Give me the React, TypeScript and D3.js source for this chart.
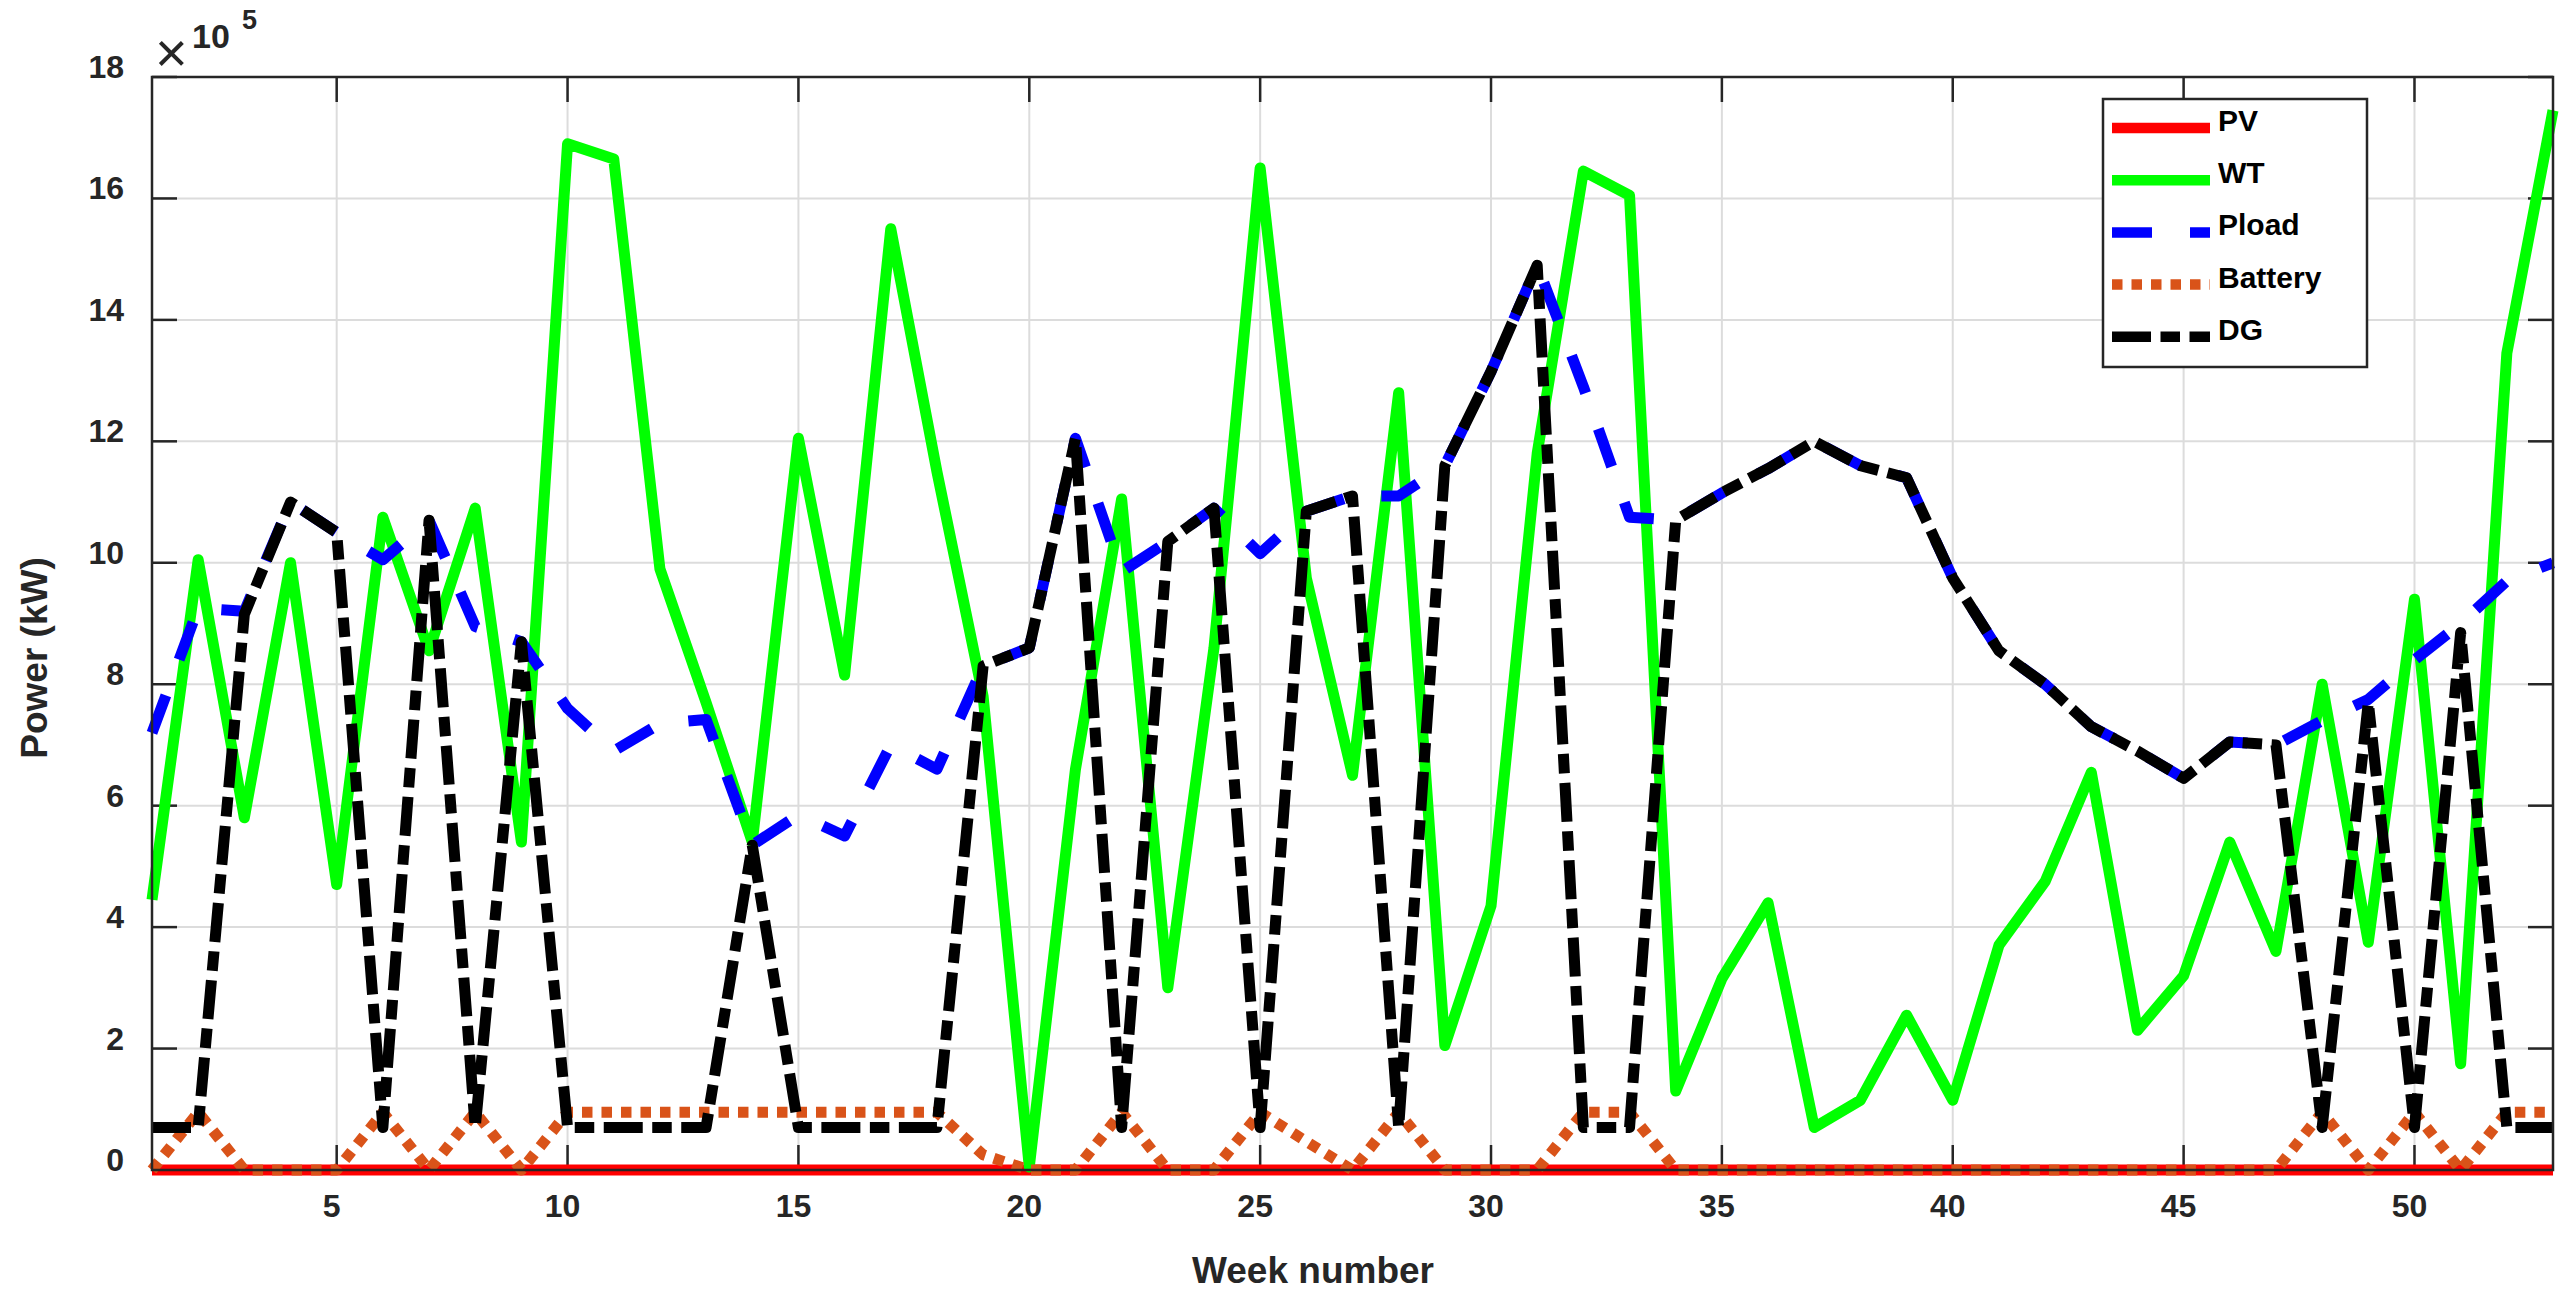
import React from "react";
import * as d3 from "d3";

// week index on the x axis
const weeks = [
  1, 2, 3, 4, 5, 6, 7, 8, 9, 10, 11, 12, 13, 14, 15, 16, 17, 18, 19, 20, 21, 22, 23, 24, 25, 26,
  27, 28, 29, 30, 31, 32, 33, 34, 35, 36, 37, 38, 39, 40, 41, 42, 43, 44, 45, 46, 47, 48, 49, 50,
  51, 52, 53,
];

// power values in units of 10^5 kW
const pvPower = [
  0, 0, 0, 0, 0, 0, 0, 0, 0, 0, 0, 0, 0, 0, 0, 0, 0, 0, 0, 0, 0, 0, 0, 0, 0, 0,
  0, 0, 0, 0, 0, 0, 0, 0, 0, 0, 0, 0, 0, 0, 0, 0, 0, 0, 0, 0, 0, 0, 0, 0, 0, 0, 0,
];
const wtPower = [
  4.45, 10.05, 5.8, 10.0, 4.7, 10.75, 8.55, 10.9, 5.4, 16.9, 16.65, 9.9, 7.7, 5.4, 12.05, 8.15,
  15.5, 11.5, 7.8, 0.05, 6.6, 11.05, 3.0, 8.6, 16.5, 9.75, 6.5, 12.8, 2.05, 4.35, 11.8, 16.45,
  16.05, 1.3, 3.15, 4.4, 0.7, 1.15, 2.55, 1.15, 3.7, 4.75, 6.55, 2.3, 3.2, 5.4, 3.6, 8.0, 3.75,
  9.4, 1.75, 13.45, 17.45,
];
const loadPower = [
  7.2, 9.25, 9.2, 11.0, 10.5, 10.05, 10.7, 8.95, 8.7, 7.6, 6.9, 7.35, 7.42, 5.35, 5.85, 5.5,
  7.0, 6.6, 8.3, 8.6, 12.05, 9.85, 10.35, 10.9, 10.15, 10.85, 11.1, 11.1, 11.6, 13.15, 14.9,
  12.9, 10.75, 10.7, 11.15, 11.55, 12.0, 11.6, 11.4, 9.75, 8.55, 8.0, 7.3, 6.9, 6.45, 7.05, 7.0,
  7.4, 7.75, 8.4, 9.0, 9.7, 10.0,
];
const batteryPower = [
  0, 0.95, 0, 0, 0, 0.95, 0, 0.95, 0, 0.95, 0.95, 0.95, 0.95, 0.95, 0.95, 0.95, 0.95, 0.95,
  0.25, 0, 0, 0.95, 0, 0, 0.95, 0.47, 0, 0.95, 0, 0, 0, 0.95, 0.95, 0, 0, 0, 0, 0, 0, 0, 0, 0,
  0, 0, 0, 0, 0, 0.95, 0, 0.95, 0, 0.95, 0.95,
];
const dgPower = [
  0.7, 0.7, 9.15, 11.0, 10.5, 0.7, 10.7, 0.7, 8.7, 0.7, 0.7, 0.7, 0.7, 5.35, 0.7, 0.7, 0.7,
  0.7, 8.3, 8.6, 12.05, 0.7, 10.35, 10.9, 0.7, 10.85, 11.1, 0.7, 11.6, 13.15, 14.9, 0.7, 0.7,
  10.7, 11.15, 11.55, 12.0, 11.6, 11.4, 9.75, 8.55, 8.0, 7.3, 6.9, 6.45, 7.05, 7.0, 0.7, 7.7,
  0.7, 8.85, 0.7, 0.7,
];

const xTicks = [5, 10, 15, 20, 25, 30, 35, 40, 45, 50];
const yTicks = [0, 2, 4, 6, 8, 10, 12, 14, 16, 18];

const series = [
  { name: "PV", values: pvPower, color: "#ff0000", dash: "none" },
  { name: "WT", values: wtPower, color: "#00ff00", dash: "none" },
  { name: "Pload", values: loadPower, color: "#0000ff", dash: "40 38" },
  { name: "Battery", values: batteryPower, color: "#d95319", dash: "10.5 9" },
  { name: "DG", values: dgPower, color: "#000000", dash: "39 9.5 19.5 9.5" },
];

const font = "'Liberation Sans', Arial, Helvetica, sans-serif";
const axisColor = "#262626";

export default function App() {
  const left = 152;
  const right = 2553;
  const top = 77;
  const bottom = 1170;
  const tickLen = 25;

  const x = d3.scaleLinear().domain([1, 53]).range([left, right]);
  const y = d3.scaleLinear().domain([0, 18]).range([bottom, top]);

  const line = (vals: number[]) =>
    d3
      .line<number>()
      .x((_, i) => x(weeks[i]))
      .y((d) => y(d))(vals) || "";

  const legendX = 2103;
  const legendY = 99;
  const rowGap = 52.2;

  return (
    <svg
      width={2575}
      height={1295}
      style={{ position: "absolute", left: 0, top: 0, display: "block", background: "#fff" }}
      fontFamily={font}
    >
      <rect x={0} y={0} width={2575} height={1295} fill="#fff" />

      {/* grid */}
      {xTicks.map((t) => (
        <line key={"gx" + t} x1={x(t)} x2={x(t)} y1={top} y2={bottom} stroke="#dcdcdc" strokeWidth={2} />
      ))}
      {yTicks.slice(1, -1).map((t) => (
        <line key={"gy" + t} x1={left} x2={right} y1={y(t)} y2={y(t)} stroke="#dcdcdc" strokeWidth={2} />
      ))}

      {/* ticks on all four sides */}
      {xTicks.map((t) => (
        <g key={"tx" + t} stroke={axisColor} strokeWidth={2.5}>
          <line x1={x(t)} x2={x(t)} y1={bottom} y2={bottom - tickLen} />
          <line x1={x(t)} x2={x(t)} y1={top} y2={top + tickLen} />
        </g>
      ))}
      {yTicks.map((t) => (
        <g key={"ty" + t} stroke={axisColor} strokeWidth={2.5}>
          <line x1={left} x2={left + tickLen} y1={y(t)} y2={y(t)} />
          <line x1={right} x2={right - tickLen} y1={y(t)} y2={y(t)} />
        </g>
      ))}

      {/* series */}
      {series.map((s) => (
        <path
          key={s.name}
          d={line(s.values)}
          fill="none"
          stroke={s.color}
          strokeWidth={11}
          strokeDasharray={s.dash}
          strokeLinejoin="round"
          strokeLinecap="butt"
        />
      ))}

      {/* axes box */}
      <rect x={left} y={top} width={right - left} height={bottom - top} fill="none" stroke={axisColor} strokeWidth={2.5} />

      {/* tick labels */}
      {xTicks.map((t) => (
        <text key={"lx" + t} x={x(t) - 5} y={1217} textAnchor="middle" fontSize={32} fontWeight="bold" fill={axisColor}>
          {t}
        </text>
      ))}
      {yTicks.map((t) => (
        <text key={"ly" + t} x={124} y={y(t) + 1} textAnchor="end" fontSize={32} fontWeight="bold" fill={axisColor}>
          {t}
        </text>
      ))}

      {/* exponent */}
      <text x={155} y={72} fontSize={56} fill={axisColor}>×</text>
      <text x={192} y={48} fontSize={34} fontWeight="bold" fill={axisColor}>10</text>
      <text x={242} y={29} fontSize={27} fontWeight="bold" fill={axisColor}>5</text>

      {/* axis labels */}
      <text x={1313} y={1283} textAnchor="middle" fontSize={37} fontWeight="bold" fill={axisColor}>
        Week number
      </text>
      <text
        transform="translate(47,658) rotate(-90)"
        textAnchor="middle"
        fontSize={37}
        fontWeight="bold"
        fill={axisColor}
      >
        Power (kW)
      </text>

      {/* legend */}
      <rect x={legendX} y={legendY} width={264} height={268} fill="#fff" stroke={axisColor} strokeWidth={2.5} />
      {series.map((s, i) => {
        const ry = 128 + i * rowGap;
        return (
          <g key={"lg" + s.name}>
            <line
              x1={2112}
              x2={2210}
              y1={ry}
              y2={ry}
              stroke={s.color}
              strokeWidth={10.5}
              strokeDasharray={s.dash}
            />
            <text x={2218} y={ry + 3} fontSize={30} fontWeight="bold" fill="#000">
              {s.name}
            </text>
          </g>
        );
      })}
    </svg>
  );
}
